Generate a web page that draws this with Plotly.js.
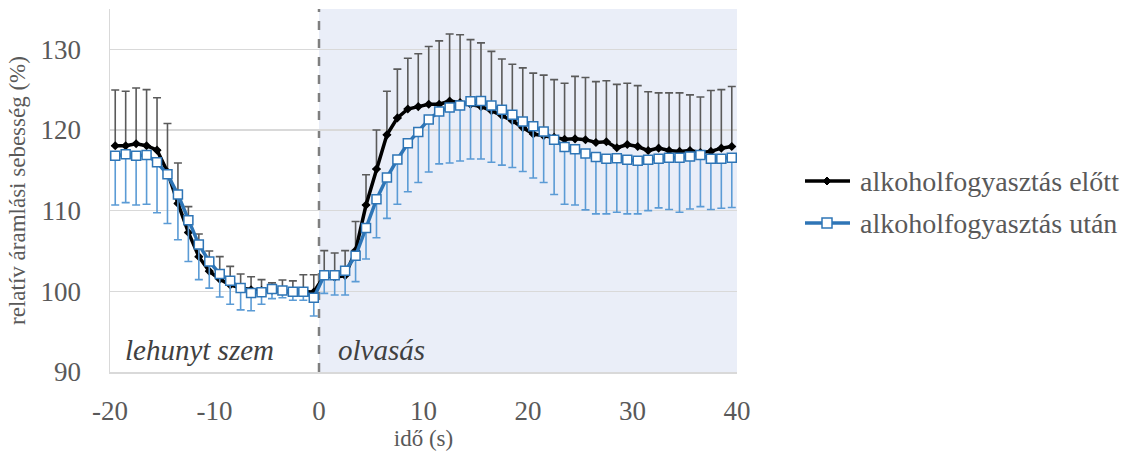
<!DOCTYPE html>
<html>
<head>
<meta charset="utf-8">
<script src="https://cdn.plot.ly/plotly-3.0.1.min.js"></script>
<style>html,body{margin:0;padding:0;background:#fff;}#chart{width:1128px;height:452px;}</style>
</head>
<body>
<div id="chart"></div>
<script>
// time (s), sampled every second
const timeS = [-19.5,-18.5,-17.5,-16.5,-15.5,-14.5,-13.5,-12.5,-11.5,-10.5,-9.5,-8.5,-7.5,-6.5,-5.5,-4.5,-3.5,-2.5,-1.5,-0.5,
  0.5,1.5,2.5,3.5,4.5,5.5,6.5,7.5,8.5,9.5,10.5,11.5,12.5,13.5,14.5,15.5,16.5,17.5,18.5,19.5,
  20.5,21.5,22.5,23.5,24.5,25.5,26.5,27.5,28.5,29.5,30.5,31.5,32.5,33.5,34.5,35.5,36.5,37.5,38.5,39.5];

// "alkoholfogyasztás előtt" mean and upper error
const elottMean = [118.05,118.05,118.3,118.05,117.5,114.8,110.9,107.3,104.3,102.5,101.5,100.8,100.4,100.2,100.1,100.1,100.0,99.9,100.0,99.9,
  101.95,101.75,101.95,105.05,110.7,115.15,119.4,121.5,122.6,122.9,123.2,123.2,123.6,123.4,123.2,122.9,122.4,121.8,121.15,120.3,
  119.5,119.3,119.1,118.85,118.9,118.8,118.45,118.55,117.8,118.2,117.95,117.45,117.75,117.45,117.35,117.45,117.2,117.35,117.75,117.95];
const elottErr = [6.9,6.75,6.9,6.95,6.5,6.0,5.0,3.2,2.8,2.5,2.8,2.3,1.75,1.6,1.35,0.95,1.4,1.4,2.05,2.15,
  3.1,3.0,3.1,3.6,3.75,4.85,5.4,6.05,6.3,6.55,7.15,7.85,8.3,8.4,8.0,7.9,7.35,7.0,7.0,7.4,
  7.55,7.5,7.15,6.95,7.75,7.7,7.55,7.55,7.85,7.6,7.55,7.3,6.85,7.15,7.25,6.9,6.9,7.55,7.25,7.45];

// "alkoholfogyasztás után" mean and lower error
const utanMean = [116.8,117.0,116.8,116.9,116.0,114.5,112.0,108.8,105.8,103.7,102.15,101.3,100.4,99.8,99.9,100.3,100.1,99.95,99.95,99.2,
  102.0,102.0,102.55,104.4,107.85,111.4,114.1,116.35,118.35,119.75,121.3,122.3,122.8,123.05,123.55,123.6,123.05,122.5,121.9,121.05,
  120.45,119.8,118.8,117.9,117.6,117.1,116.65,116.45,116.5,116.3,116.2,116.3,116.45,116.55,116.55,116.7,116.9,116.45,116.45,116.55];
const utanErr = [6.1,6.0,6.1,6.1,6.25,6.1,5.6,5.1,4.35,3.3,2.85,2.9,2.7,2.2,1.5,1.2,0.9,1.05,1.05,2.25,
  2.25,2.45,3.0,3.2,3.85,4.75,5.05,5.55,6.0,6.25,6.5,6.5,6.9,6.9,7.15,7.2,7.05,6.85,6.55,6.2,
  6.4,6.3,6.8,7.1,6.9,7.0,7.05,6.85,6.7,6.7,6.6,6.3,6.1,6.4,6.75,6.5,6.4,6.3,6.15,6.15];

const seriesNames = ['alkoholfogyasztás előtt', 'alkoholfogyasztás után'];
const phaseLabels = ['lehunyt szem', 'olvasás'];
const phaseLabelX = [-11.4, 6.0];
const xTicks = [-20, -10, 0, 10, 20, 30, 40];
const yTicks = [90, 100, 110, 120, 130];

const serif = 'Liberation Serif';
const grey = '#595959';
const colors = {elott: '#000000', utan: '#2E75B6', elottErr: '#5a5a5a', utanErr: '#5B9BD5'};

const traces = [
  {
    x: timeS, y: elottMean, name: seriesNames[0], type: 'scatter', mode: 'lines+markers',
    line: {color: colors.elott, width: 3.5},
    marker: {symbol: 'diamond', size: 7, color: colors.elott},
    error_y: {type: 'data', symmetric: false, array: elottErr, arrayminus: elottErr.map(() => 0),
      color: colors.elottErr, thickness: 1.6, width: 4}
  },
  {
    x: timeS, y: utanMean, name: seriesNames[1], type: 'scatter', mode: 'lines+markers',
    line: {color: colors.utan, width: 3.5},
    marker: {symbol: 'square', size: 9, color: '#ffffff', line: {color: colors.utan, width: 1.5}},
    error_y: {type: 'data', symmetric: false, array: utanErr.map(() => 0), arrayminus: utanErr,
      color: colors.utanErr, thickness: 1.6, width: 4}
  }
];

// legend drawn as paper-anchored shapes + annotations (pixel geometry -> paper coords)
const plotL = 110, plotW = 627, plotB = 372, plotH = 363;
const px = v => (v - plotL) / plotW;
const py = v => (plotB - v) / plotH;
const legRows = [181, 223];
const legX0 = 805, legX1 = 850, legMid = 827, legText = 858;

const legendShapes = [];
legRows.forEach((r, i) => {
  const c = i === 0 ? colors.elott : colors.utan;
  legendShapes.push({type: 'line', xref: 'paper', yref: 'paper', x0: px(legX0), x1: px(legX1), y0: py(r), y1: py(r),
    line: {color: c, width: 3.5}});
});
// diamond symbol
legendShapes.push({type: 'path', xref: 'paper', yref: 'paper',
  path: `M ${px(legMid - 4)} ${py(legRows[0])} L ${px(legMid)} ${py(legRows[0] - 4)} L ${px(legMid + 4)} ${py(legRows[0])} L ${px(legMid)} ${py(legRows[0] + 4)} Z`,
  fillcolor: colors.elott, line: {color: colors.elott, width: 1}});
// square symbol
legendShapes.push({type: 'rect', xref: 'paper', yref: 'paper',
  x0: px(legMid - 5), x1: px(legMid + 5), y0: py(legRows[1] + 5), y1: py(legRows[1] - 5),
  fillcolor: '#ffffff', line: {color: colors.utan, width: 1.5}});

const legendTexts = seriesNames.map((t, i) => ({
  text: t, xref: 'paper', yref: 'paper', x: px(legText), y: py(legRows[i]), xanchor: 'left', yanchor: 'middle',
  showarrow: false, font: {family: serif, size: 28, color: grey}
}));

const layout = {
  width: 1128, height: 452,
  margin: {l: plotL, r: 1128 - plotL - plotW, t: 452 - 80 - plotH, b: 80},
  paper_bgcolor: '#ffffff', plot_bgcolor: '#ffffff',
  font: {family: serif, color: grey},
  showlegend: false,
  xaxis: {
    range: [-20, 40], tickvals: xTicks, ticktext: xTicks.map(String),
    showgrid: false, zeroline: false, showline: true, linecolor: '#D9D9D9', linewidth: 1.5,
    ticks: '', ticklabelstandoff: 14,
    tickfont: {family: serif, size: 27, color: grey},
    title: {text: 'idő (s)', font: {family: serif, size: 23, color: grey}, standoff: 4}
  },
  yaxis: {
    range: [90, 135], tickvals: yTicks, ticktext: yTicks.map(String),
    showgrid: true, gridcolor: '#D9D9D9', gridwidth: 1.5,
    zeroline: false, showline: true, linecolor: '#D9D9D9', linewidth: 1.5,
    ticks: '', ticklabelstandoff: 22,
    tickfont: {family: serif, size: 27, color: grey},
    title: {text: 'relatív áramlási sebesség (%)', font: {family: serif, size: 23, color: grey}, standoff: 8}
  },
  shapes: [
    {type: 'rect', xref: 'x', yref: 'paper', x0: 0, x1: 40, y0: 0, y1: 1,
     fillcolor: '#EAEEF8', line: {width: 0}, layer: 'below'},
    {type: 'line', xref: 'x', yref: 'paper', x0: 0, x1: 0, y0: 0, y1: 1,
     line: {color: '#7F7F7F', width: 2.5, dash: 'dash'}, layer: 'below'}
  ].concat(legendShapes),
  annotations: phaseLabels.map((t, i) => ({
    text: t, x: phaseLabelX[i], y: 92.7, xref: 'x', yref: 'y', showarrow: false,
    font: {family: serif, size: 29, color: '#404040', style: 'italic'}
  })).concat(legendTexts)
};

Plotly.newPlot('chart', traces, layout, {displayModeBar: false, staticPlot: true});
</script>
</body>
</html>
